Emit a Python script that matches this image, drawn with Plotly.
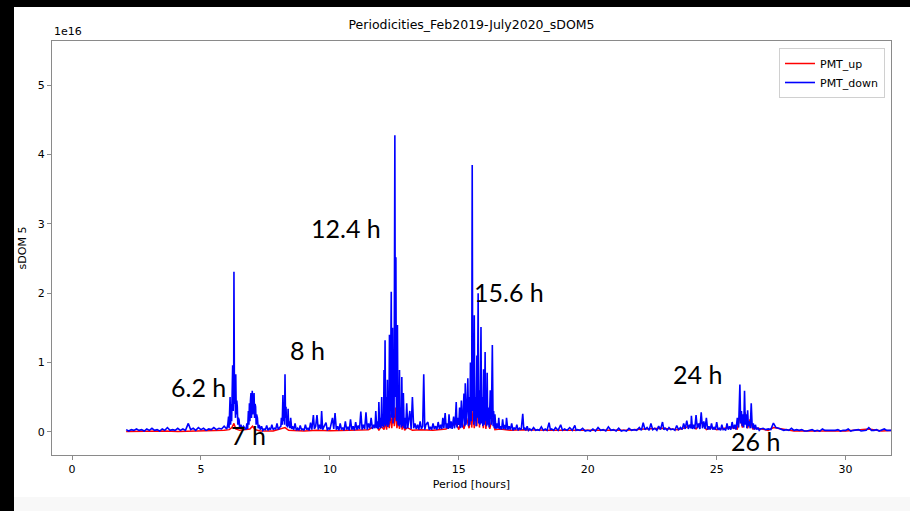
import plotly.graph_objects as go

# ---- data (values in units of 1e16) ----
up_period = [2.1, 2.6, 3.1, 3.6, 4.1, 4.6, 5.1, 5.6, 5.9, 6.1,
             6.2, 6.28, 6.35, 6.5, 6.9, 7.0, 7.1, 7.3, 7.8, 8.26,
             8.4, 9.0, 9.5, 10.0, 10.5, 11.0, 11.5, 11.8, 11.9, 12.0,
             12.1, 12.15, 12.2, 12.25, 12.3, 12.35, 12.4, 12.45, 12.5, 12.55,
             12.6, 12.65, 12.7, 12.75, 12.8, 12.85, 12.9, 13.0, 13.2, 13.5,
             14.0, 14.5, 14.9, 15.0, 15.1, 15.2, 15.3, 15.4, 15.45, 15.5,
             15.55, 15.6, 15.65, 15.7, 15.75, 15.8, 15.85, 15.9, 15.95, 16.0,
             16.05, 16.1, 16.2, 16.3, 16.4, 16.6, 17.0, 17.5, 18.5, 19.5,
             20.5, 21.5, 22.2, 22.9, 23.5, 23.8, 24.0, 24.2, 24.4, 24.6,
             24.8, 25.0, 25.3, 25.6, 25.8, 25.9, 26.0, 26.1, 26.2, 26.3,
             26.4, 26.6, 27.0, 27.2, 28.0, 29.0, 30.0, 30.9, 31.4, 31.9]
up_power = [0.005, 0.01, 0.005, 0.01, 0.005, 0.01, 0.01, 0.01, 0.02, 0.03,
            0.06, 0.12, 0.04, 0.02, 0.04, 0.08, 0.03, 0.01, 0.01, 0.06,
            0.02, 0.01, 0.02, 0.015, 0.02, 0.02, 0.03, 0.1, 0.02, 0.08,
            0.03, 0.15, 0.03, 0.2, 0.05, 0.25, 0.05, 0.3, 0.08, 0.35,
            0.05, 0.2, 0.04, 0.28, 0.03, 0.12, 0.02, 0.06, 0.02, 0.03,
            0.02, 0.04, 0.12, 0.03, 0.18, 0.04, 0.2, 0.05, 0.35, 0.06,
            0.3, 0.05, 0.45, 0.08, 0.55, 0.06, 0.3, 0.5, 0.05, 0.3,
            0.04, 0.25, 0.04, 0.2, 0.03, 0.04, 0.02, 0.03, 0.02, 0.02,
            0.01, 0.02, 0.04, 0.05, 0.03, 0.06, 0.1, 0.04, 0.14, 0.03,
            0.06, 0.03, 0.05, 0.06, 0.04, 0.21, 0.06, 0.28, 0.05, 0.18,
            0.04, 0.05, 0.02, 0.06, 0.01, 0.01, 0.01, 0.04, 0.01, 0.02]

down_period = [2.1, 2.2, 2.3, 2.4, 2.5, 2.6, 2.7, 2.8, 2.9, 3.0,
               3.1, 3.2, 3.3, 3.4, 3.5, 3.6, 3.7, 3.8, 3.9, 4.0,
               4.1, 4.2, 4.3, 4.4, 4.51, 4.6, 4.7, 4.8, 4.9, 5.0,
               5.1, 5.2, 5.3, 5.4, 5.5, 5.6, 5.7, 5.8, 5.9, 6.0,
               6.04, 6.07, 6.09, 6.11, 6.13, 6.15, 6.17, 6.19, 6.21, 6.23,
               6.25, 6.27, 6.28, 6.30, 6.32, 6.34, 6.35, 6.37, 6.39, 6.41,
               6.43, 6.45, 6.48, 6.5, 6.55, 6.6, 6.65, 6.7, 6.75, 6.78,
               6.81, 6.84, 6.86, 6.88, 6.9, 6.92, 6.94, 6.96, 6.99, 7.01,
               7.03, 7.06, 7.08, 7.1, 7.12, 7.14, 7.16, 7.19, 7.22, 7.26,
               7.3, 7.35, 7.4, 7.45, 7.5, 7.55, 7.6, 7.65, 7.7, 7.75,
               7.8, 7.85, 7.9, 7.95, 8.0, 8.05, 8.1, 8.12, 8.15, 8.18,
               8.2, 8.22, 8.24, 8.26, 8.28, 8.3, 8.32, 8.34, 8.36, 8.38,
               8.4, 8.42, 8.45, 8.48, 8.52, 8.55, 8.6, 8.65, 8.7, 8.75,
               8.8, 8.85, 8.9, 8.95, 9.0, 9.05, 9.1, 9.15, 9.2, 9.25,
               9.3, 9.36, 9.4, 9.45, 9.5, 9.55, 9.6, 9.65, 9.68, 9.72,
               9.78, 9.85, 9.9, 9.95, 10.0, 10.05, 10.1, 10.15, 10.2, 10.25,
               10.3, 10.35, 10.4, 10.45, 10.5, 10.55, 10.6, 10.65, 10.7, 10.75,
               10.8, 10.85, 10.9, 10.95, 11.0, 11.05, 11.1, 11.15, 11.2, 11.25,
               11.3, 11.35, 11.4, 11.45, 11.5, 11.55, 11.6, 11.65, 11.7, 11.75,
               11.78, 11.82, 11.85, 11.88, 11.9, 11.93, 11.95, 11.98, 12.01, 12.03,
               12.05, 12.08, 12.1, 12.12, 12.14, 12.16, 12.18, 12.21, 12.23, 12.25,
               12.27, 12.29, 12.31, 12.33, 12.35, 12.38, 12.4, 12.41, 12.43, 12.45,
               12.47, 12.49, 12.52, 12.54, 12.56, 12.58, 12.6, 12.62, 12.64, 12.66,
               12.68, 12.7, 12.72, 12.74, 12.77, 12.79, 12.81, 12.83, 12.85, 12.88,
               12.9, 12.94, 12.98, 13.02, 13.05, 13.1, 13.15, 13.2, 13.25, 13.3,
               13.35, 13.4, 13.45, 13.5, 13.55, 13.6, 13.64, 13.68, 13.72, 13.8,
               13.85, 13.9, 13.95, 14.0, 14.05, 14.1, 14.15, 14.2, 14.25, 14.3,
               14.34, 14.38, 14.42, 14.47, 14.51, 14.55, 14.59, 14.62, 14.66, 14.7,
               14.74, 14.8, 14.83, 14.86, 14.9, 14.93, 14.96, 15.0, 15.03, 15.06,
               15.1, 15.13, 15.16, 15.2, 15.23, 15.25, 15.28, 15.31, 15.35, 15.38,
               15.4, 15.43, 15.45, 15.48, 15.5, 15.52, 15.54, 15.56, 15.58, 15.6,
               15.62, 15.64, 15.67, 15.7, 15.72, 15.75, 15.77, 15.79, 15.82, 15.86,
               15.88, 15.9, 15.93, 15.96, 15.99, 16.02, 16.04, 16.06, 16.08, 16.1,
               16.12, 16.15, 16.18, 16.22, 16.26, 16.3, 16.33, 16.35, 16.38, 16.4,
               16.44, 16.48, 16.52, 16.55, 16.58, 16.62, 16.66, 16.7, 16.74, 16.78,
               16.82, 16.85, 16.9, 16.95, 17.0, 17.05, 17.1, 17.15, 17.2, 17.25,
               17.3, 17.35, 17.42, 17.48, 17.52, 17.55, 17.6, 17.65, 17.7, 17.75,
               17.82, 17.9, 17.98, 18.05, 18.12, 18.2, 18.28, 18.35, 18.42, 18.5,
               18.55, 18.6, 18.68, 18.75, 18.85, 18.95, 19.02, 19.1, 19.2, 19.3,
               19.4, 19.5, 19.55, 19.6, 19.7, 19.8, 19.9, 20.0, 20.1, 20.2,
               20.3, 20.4, 20.5, 20.6, 20.7, 20.8, 20.9, 21.0, 21.1, 21.2,
               21.3, 21.4, 21.5, 21.6, 21.7, 21.8, 21.9, 22.0, 22.08, 22.15,
               22.22, 22.3, 22.38, 22.45, 22.52, 22.6, 22.68, 22.75, 22.82, 22.9,
               22.95, 23.0, 23.08, 23.15, 23.22, 23.3, 23.38, 23.45, 23.52, 23.6,
               23.66, 23.72, 23.78, 23.84, 23.9, 23.95, 24.0, 24.02, 24.06, 24.1,
               24.15, 24.2, 24.25, 24.3, 24.35, 24.4, 24.45, 24.5, 24.55, 24.6,
               24.65, 24.7, 24.75, 24.8, 24.85, 24.9, 24.95, 25.0, 25.05, 25.1,
               25.15, 25.2, 25.25, 25.3, 25.35, 25.4, 25.45, 25.5, 25.55, 25.6,
               25.65, 25.7, 25.75, 25.8, 25.85, 25.9, 25.93, 25.96, 25.99, 26.02,
               26.05, 26.08, 26.11, 26.14, 26.17, 26.2, 26.23, 26.26, 26.3, 26.34,
               26.38, 26.42, 26.46, 26.5, 26.55, 26.6, 26.65, 26.7, 26.8, 26.9,
               27.0, 27.1, 27.2, 27.3, 27.4, 27.5, 27.6, 27.7, 27.8, 27.9,
               28.0, 28.1, 28.2, 28.3, 28.4, 28.5, 28.6, 28.7, 28.8, 28.9,
               29.0, 29.1, 29.2, 29.3, 29.4, 29.5, 29.6, 29.7, 29.8, 29.9,
               30.0, 30.1, 30.2, 30.3, 30.4, 30.5, 30.6, 30.7, 30.8, 30.9,
               31.0, 31.1, 31.2, 31.3, 31.4, 31.5, 31.6, 31.7, 31.8, 31.9]
down_power = [0.03, 0.01, 0.03, 0.02, 0.04, 0.02, 0.03, 0.01, 0.04, 0.02,
              0.05, 0.02, 0.03, 0.01, 0.04, 0.02, 0.06, 0.02, 0.03, 0.02,
              0.05, 0.02, 0.04, 0.02, 0.12, 0.03, 0.05, 0.02, 0.06, 0.03,
              0.05, 0.02, 0.04, 0.03, 0.06, 0.03, 0.05, 0.04, 0.08, 0.04,
              0.1, 0.22, 0.05, 0.3, 0.5, 0.1, 0.4, 0.15, 0.6, 0.96,
              0.3, 0.7, 2.31, 0.4, 0.6, 0.2, 0.83, 0.25, 0.45, 0.36,
              0.1, 0.2, 0.17, 0.05, 0.1, 0.04, 0.08, 0.05, 0.03, 0.12,
              0.04, 0.3, 0.1, 0.41, 0.15, 0.45, 0.56, 0.2, 0.59, 0.25,
              0.5, 0.56, 0.2, 0.4, 0.36, 0.1, 0.25, 0.2, 0.05, 0.1,
              0.03, 0.08, 0.02, 0.04, 0.03, 0.09, 0.02, 0.05, 0.03, 0.1,
              0.03, 0.05, 0.04, 0.12, 0.03, 0.06, 0.08, 0.2, 0.1, 0.53,
              0.15, 0.3, 0.1, 0.83, 0.2, 0.36, 0.08, 0.18, 0.06, 0.33,
              0.08, 0.15, 0.05, 0.2, 0.04, 0.08, 0.03, 0.12, 0.02, 0.05,
              0.02, 0.09, 0.03, 0.04, 0.02, 0.1, 0.03, 0.05, 0.02, 0.13,
              0.03, 0.24, 0.04, 0.08, 0.24, 0.03, 0.1, 0.04, 0.3, 0.03,
              0.08, 0.13, 0.02, 0.06, 0.03, 0.15, 0.2, 0.04, 0.27, 0.03,
              0.08, 0.02, 0.12, 0.03, 0.06, 0.02, 0.15, 0.03, 0.07, 0.02,
              0.18, 0.03, 0.08, 0.02, 0.14, 0.03, 0.09, 0.04, 0.29, 0.03,
              0.1, 0.04, 0.28, 0.03, 0.12, 0.05, 0.2, 0.04, 0.1, 0.05,
              0.3, 0.05, 0.15, 0.04, 0.43, 0.06, 0.2, 0.05, 0.5, 0.08,
              0.25, 0.06, 0.89, 0.1, 1.32, 0.08, 0.5, 0.1, 0.75, 0.07,
              0.45, 0.1, 1.4, 0.15, 0.6, 2.02, 0.2, 0.8, 1.5, 0.12,
              0.9, 0.2, 4.28, 0.5, 2.52, 0.15, 0.7, 1.54, 0.1, 0.5,
              0.08, 0.89, 0.1, 0.35, 0.06, 0.79, 0.08, 0.3, 0.56, 0.05,
              0.2, 0.04, 0.41, 0.05, 0.15, 0.3, 0.04, 0.5, 0.05, 0.12,
              0.04, 0.1, 0.03, 0.15, 0.04, 0.08, 0.83, 0.03, 0.1, 0.14,
              0.03, 0.07, 0.03, 0.12, 0.04, 0.08, 0.03, 0.14, 0.04, 0.1,
              0.04, 0.2, 0.05, 0.27, 0.05, 0.12, 0.04, 0.25, 0.05, 0.15,
              0.04, 0.22, 0.05, 0.12, 0.43, 0.06, 0.2, 0.1, 0.35, 0.05,
              0.45, 0.06, 0.2, 0.55, 0.08, 0.7, 0.1, 0.3, 0.77, 0.08,
              0.5, 0.1, 1.0, 0.15, 0.6, 3.85, 0.3, 1.0, 0.1, 1.68,
              0.15, 0.5, 0.08, 1.1, 0.2, 2.0, 0.12, 0.6, 0.1, 1.51,
              0.12, 0.5, 0.08, 0.9, 0.1, 1.15, 0.15, 0.4, 0.08, 0.85,
              0.1, 0.35, 0.06, 0.6, 0.1, 1.25, 0.08, 0.3, 0.05, 0.25,
              0.04, 0.12, 0.05, 0.2, 0.04, 0.08, 0.03, 0.18, 0.04, 0.1,
              0.03, 0.2, 0.03, 0.08, 0.03, 0.12, 0.02, 0.06, 0.03, 0.1,
              0.02, 0.05, 0.03, 0.26, 0.03, 0.06, 0.02, 0.08, 0.02, 0.04,
              0.02, 0.06, 0.02, 0.03, 0.02, 0.07, 0.02, 0.04, 0.02, 0.13,
              0.03, 0.04, 0.02, 0.06, 0.02, 0.1, 0.02, 0.04, 0.02, 0.06,
              0.02, 0.09, 0.02, 0.03, 0.02, 0.05, 0.01, 0.02, 0.01, 0.04,
              0.01, 0.06, 0.02, 0.03, 0.01, 0.07, 0.02, 0.03, 0.01, 0.05,
              0.01, 0.02, 0.01, 0.05, 0.02, 0.03, 0.02, 0.06, 0.02, 0.13,
              0.03, 0.06, 0.02, 0.12, 0.03, 0.05, 0.02, 0.08, 0.03, 0.14,
              0.03, 0.05, 0.02, 0.06, 0.03, 0.04, 0.02, 0.09, 0.03, 0.06,
              0.03, 0.12, 0.04, 0.16, 0.04, 0.1, 0.05, 0.23, 0.04, 0.1,
              0.04, 0.24, 0.05, 0.12, 0.04, 0.28, 0.05, 0.15, 0.04, 0.2,
              0.03, 0.08, 0.03, 0.12, 0.03, 0.06, 0.03, 0.14, 0.03, 0.05,
              0.02, 0.1, 0.03, 0.04, 0.02, 0.12, 0.03, 0.08, 0.03, 0.14,
              0.04, 0.1, 0.03, 0.2, 0.06, 0.68, 0.12, 0.3, 0.08, 0.25,
              0.06, 0.59, 0.1, 0.25, 0.05, 0.31, 0.08, 0.15, 0.05, 0.41,
              0.05, 0.12, 0.03, 0.1, 0.03, 0.06, 0.02, 0.04, 0.05, 0.03,
              0.04, 0.03, 0.125, 0.06, 0.05, 0.04, 0.02, 0.03, 0.02, 0.05,
              0.02, 0.03, 0.02, 0.03, 0.01, 0.01, 0.02, 0.03, 0.01, 0.02,
              0.01, 0.04, 0.02, 0.02, 0.01, 0.01, 0.02, 0.03, 0.01, 0.02,
              0.02, 0.04, 0.01, 0.02, 0.02, 0.03, 0.01, 0.02, 0.02, 0.06,
              0.02, 0.02, 0.03, 0.01, 0.02, 0.04, 0.02, 0.02, 0.03, 0.02]

label_text = ["6.2 h", "7 h", "8 h", "12.4 h", "15.6 h", "24 h", "26 h"]
label_x = [4.89, 6.85, 9.13, 10.63, 16.95, 24.26, 26.49]
label_y = [0.65, -0.05, 1.18, 2.94, 2.02, 0.83, -0.13]

x_ticks = [0, 5, 10, 15, 20, 25, 30]
y_ticks = [0, 1, 2, 3, 4, 5]

W, H = 910, 511
L, R, T, B = 52, 19, 41, 56
pw, ph = W - L - R, H - T - B

fig = go.Figure()
fig.add_trace(go.Scatter(x=up_period, y=up_power, mode="lines", name="PMT_up",
                         line=dict(color="#ff0000", width=1.5)))
fig.add_trace(go.Scatter(x=down_period, y=down_power, mode="lines", name="PMT_down",
                         line=dict(color="#0000ff", width=1.6)))

for t, x, y in zip(label_text, label_x, label_y):
    fig.add_annotation(x=x, y=y, text=t, showarrow=False,
                       font=dict(family="Lato, Noto Sans, sans-serif", size=25, color="black"))

def px_x(p):
    return (p - L) / pw

def px_y(p):
    return 1 - (p - T) / ph

# frame strips of the screenshot
fig.add_shape(type="rect", xref="paper", yref="paper", x0=px_x(0), x1=px_x(14), y0=px_y(H), y1=px_y(0),
              fillcolor="black", line_width=0, layer="above")
fig.add_shape(type="rect", xref="paper", yref="paper", x0=px_x(0), x1=px_x(W), y0=px_y(7), y1=px_y(0),
              fillcolor="black", line_width=0, layer="above")
fig.add_shape(type="rect", xref="paper", yref="paper", x0=px_x(14), x1=px_x(W), y0=px_y(H), y1=px_y(497),
              fillcolor="#f8f8f8", line_width=0, layer="above")

fig.add_annotation(xref="paper", yref="paper", x=0, y=1, xanchor="left", yanchor="bottom",
                   text="1e16", showarrow=False, yshift=1,
                   font=dict(family="DejaVu Sans", size=11, color="black"))

axis_common = dict(showgrid=False, zeroline=False, showline=True, linecolor="#8a8a8a",
                   linewidth=1.3, mirror=True, ticks="outside", ticklen=4, tickwidth=1,
                   tickcolor="#8a8a8a",
                   tickfont=dict(family="DejaVu Sans", size=11, color="black"))

fig.update_layout(
    width=W, height=H,
    margin=dict(l=L, r=R, t=T, b=B),
    paper_bgcolor="white", plot_bgcolor="white",
    title=dict(text="Periodicities_Feb2019-July2020_sDOM5", x=(L + pw / 2) / W, xanchor="center",
               y=1 - 25 / H, yanchor="middle", yref="container",
               font=dict(family="DejaVu Sans", size=12.5, color="black")),
    xaxis=dict(range=[-0.776, 31.76], tickvals=x_ticks,
               title=dict(text="Period [hours]", standoff=4,
                          font=dict(family="DejaVu Sans", size=11, color="black")),
               **axis_common),
    yaxis=dict(range=[-0.336, 5.64], tickvals=y_ticks,
               title=dict(text="sDOM 5", standoff=8,
                          font=dict(family="DejaVu Sans", size=11, color="black")),
               **axis_common),
    legend=dict(x=px_x(885), y=px_y(48), xanchor="right", yanchor="top",
                bgcolor="white", bordercolor="#d0d0d0", borderwidth=1,
                font=dict(family="DejaVu Sans", size=11, color="black"),
                itemwidth=30, tracegroupgap=0),
    showlegend=True,
)

fig.write_html("out.html")
